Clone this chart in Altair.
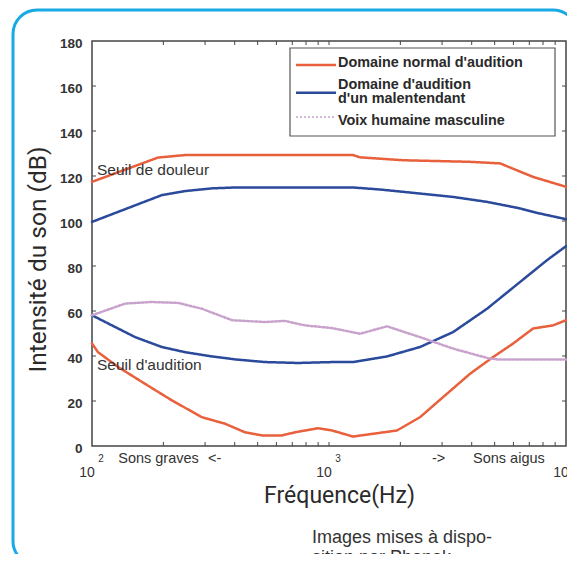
import altair as alt
import pandas as pd

# ---------------- data ----------------
douleur_f = [100, 190, 247, 1262, 1352, 2053, 3936, 5270, 7260, 10000]
douleur_db = [117.4, 128.2, 129.3, 129.3, 128.3, 127.0, 126.3, 125.6, 119.6, 115.2]

mal_haut_f = [100, 197, 247, 321, 401, 1262, 1641, 2421, 3335, 4642, 6400, 7550, 10000]
mal_haut_db = [99.6, 111.5, 113.3, 114.5, 114.9, 114.9, 114.0, 112.2, 110.7, 108.5, 105.6, 103.6, 100.8]

mal_bas_f = [100, 152, 197, 247, 321, 401, 537, 740, 1030, 1262, 1757, 2421, 3335, 4642, 6400, 8318, 10000]
mal_bas_db = [58.1, 48.4, 44.0, 41.7, 39.8, 38.5, 37.3, 36.9, 37.3, 37.3, 39.8, 44.0, 50.6, 61.0, 72.9, 82.6, 88.8]

audition_f = [100, 106, 129, 167, 218, 291, 364, 442, 521, 634, 719, 899, 1030, 1262, 1936, 2421,
              3027, 3936, 4920, 5975, 7260, 8810, 10000]
audition_db = [45.6, 41.7, 35.1, 27.7, 20.2, 12.8, 9.9, 6.1, 4.7, 4.7, 6.1, 7.9, 6.9, 4.2, 6.9, 12.8,
               21.7, 32.1, 39.5, 45.5, 52.2, 53.6, 55.9]

voix_f = [100, 138, 179, 231, 291, 390, 537, 652, 792, 1030, 1352, 1757, 2421, 3335, 4780, 5270, 10000]
voix_db = [58.1, 63.3, 64.0, 63.6, 61.0, 55.9, 55.1, 55.6, 53.6, 52.4, 49.9, 53.2, 48.4, 43.3, 38.8, 38.4, 38.4]

series_names = ["Domaine normal d'audition", "Domaine d'audition|d'un malentendant", "Voix humaine masculine"]
series_colors = ["#e8603c", "#2b4a9c", "#c8a2cc"]
series_dash = [[1, 0], [1, 0], [2, 2]]
series_width = [2.5, 2.5, 1.4]

y_tick_values = [0, 20, 40, 60, 80, 100, 120, 140, 160, 180]
y_minor = [20, 40, 60, 80, 100, 120, 140, 160]
x_minor = [200, 300, 400, 500, 600, 700, 800, 900, 1000, 2000, 3000, 4000, 5000, 6000, 7000, 8000, 9000]
decade_f = [100, 1000, 10000]
decade_exp = ["2", "3", "4"]

annot_text = ["Seuil de douleur", "Seuil d'audition"]
annot_f = [105, 105]
annot_db = [122.6, 35.8]

dir_text = ["Sons graves", "<-", "->", "Sons aigus"]
dir_f = [129, 309, 2720, 4052]

credit_lines = ["Images mises à dispo-", "sition par Phonak"]

# ---------------- build tables ----------------
curves = [
    ("douleur", series_names[0], douleur_f, douleur_db),
    ("audition", series_names[0], audition_f, audition_db),
    ("mal_haut", series_names[1], mal_haut_f, mal_haut_db),
    ("mal_bas", series_names[1], mal_bas_f, mal_bas_db),
    ("voix", series_names[2], voix_f, voix_db),
]
rows = []
for cid, s, fs, ds in curves:
    for f, d in zip(fs, ds):
        rows.append({"courbe": cid, "serie": s, "f": f, "db": d})
df = pd.DataFrame(rows)

W, H = 474, 405
TITLE_FONT = "Roboto, sans-serif"
REG = "Liberation Sans, Arial, sans-serif"
DARK = "#2a2a2a"

x_scale = alt.Scale(type="log", domain=[100, 10000])
y_scale = alt.Scale(domain=[0, 180])

x_axis = alt.Axis(labels=False, ticks=False, domain=False, grid=False,
                  title="Fréquence(Hz)", titleFont=TITLE_FONT, titleFontSize=23, titleFontWeight="normal",
                  titleColor=DARK, titleX=247, titleY=56, titleAlign="center", titleBaseline="alphabetic")
y_axis = alt.Axis(values=y_tick_values, ticks=False, domain=False, grid=False,
                  labelFont=REG, labelFontSize=13.5, labelFontWeight="bold", labelColor="#333",
                  labelPadding=10, labelOffset=2,
                  title="Intensité du son (dB)", titleFont=TITLE_FONT, titleFontSize=24.5,
                  titleFontWeight="normal", titleColor=DARK, titleAngle=270, titleX=-47, titleY=218,
                  titleAlign="center", titleBaseline="alphabetic")

X = lambda: alt.X("f:Q", scale=x_scale, axis=x_axis)
Y = lambda: alt.Y("db:Q", scale=y_scale, axis=y_axis)

one = pd.DataFrame({"k": [0]})

border = alt.Chart(one).mark_rect(cornerRadius=24, fillOpacity=0, stroke="#19aae6", strokeWidth=3).encode(
    x=alt.value(-79), x2=alt.value(485), y=alt.value(-31), y2=alt.value(524))

xt = pd.DataFrame({"f": x_minor})
yt = pd.DataFrame({"db": y_minor})
tick_style = dict(color="#444", strokeWidth=1)
ticks_bottom = alt.Chart(xt).mark_rule(**tick_style).encode(x=X(), y=alt.value(H), y2=alt.value(H - 4))
ticks_top = alt.Chart(xt).mark_rule(**tick_style).encode(x=X(), y=alt.value(0), y2=alt.value(4))
ticks_left = alt.Chart(yt).mark_rule(**tick_style).encode(y=Y(), x=alt.value(0), x2=alt.value(4))
ticks_right = alt.Chart(yt).mark_rule(**tick_style).encode(y=Y(), x=alt.value(W), x2=alt.value(W - 4))

lines = alt.Chart(df).mark_line(strokeCap="round").encode(
    x=X(), y=Y(),
    color=alt.Color("serie:N", scale=alt.Scale(domain=series_names, range=series_colors), legend=None),
    strokeDash=alt.StrokeDash("serie:N", scale=alt.Scale(domain=series_names, range=series_dash), legend=None),
    strokeWidth=alt.StrokeWidth("serie:N", scale=alt.Scale(domain=series_names, range=series_width),
                                legend=None),
    detail="courbe:N",
)

# ---- legend (framed box at the top right of the plot) ----
legend_layers = [alt.Chart(one).mark_rect(fill="white", stroke="#555", strokeWidth=1.2).encode(
    x=alt.value(198), x2=alt.value(463), y=alt.value(7), y2=alt.value(95))]
sample_y = [24, 51.7, 76]
label_y = [21.7, 44.3, 80]
for name, col, dash, wid, sy, ly in zip(series_names, series_colors, series_dash, series_width, sample_y, label_y):
    legend_layers.append(alt.Chart(one).mark_rule(color=col, strokeDash=dash, strokeWidth=wid).encode(
        x=alt.value(204), x2=alt.value(244), y=alt.value(sy)))
    legend_layers.append(alt.Chart(one).mark_text(font=REG, fontSize=14.4, fontWeight="bold", color=DARK,
                                                  align="left", baseline="middle", lineHeight=14).encode(
        x=alt.value(246), y=alt.value(ly), text=alt.value(name.split("|"))))

dec = pd.DataFrame({"f": decade_f, "exp": decade_exp})
dec_base = alt.Chart(dec).mark_text(font=REG, fontSize=14, color="#333", dx=-5, align="center",
                                    baseline="middle").encode(x=X(), y=alt.value(H + 27), text=alt.value("10"))
dec_exp = alt.Chart(dec).mark_text(font=REG, fontSize=10, color="#333", dx=9, align="center",
                                   baseline="middle").encode(x=X(), y=alt.value(H + 13), text="exp:N")

dirs = pd.DataFrame({"f": dir_f, "t": dir_text})
dir_labels = alt.Chart(dirs).mark_text(font=REG, fontSize=14.5, color="#333", align="left",
                                       baseline="middle").encode(x=X(), y=alt.value(H + 13), text="t:N")

ann = pd.DataFrame({"f": annot_f, "db": annot_db, "t": annot_text})
ann_labels = alt.Chart(ann).mark_text(font=REG, fontSize=15.5, color="#333", align="left",
                                      baseline="middle").encode(x=X(), y=Y(), text="t:N")

credit = alt.Chart(one).mark_text(font=REG, fontSize=18, color="#333", align="left", baseline="top",
                                  lineHeight=20).encode(x=alt.value(220), y=alt.value(488),
                                                        text=alt.value(credit_lines))

chart = alt.layer(
    border, ticks_bottom, ticks_top, ticks_left, ticks_right,
    lines, *legend_layers, dec_base, dec_exp, dir_labels, ann_labels, credit,
).properties(
    width=W, height=H,
    autosize=alt.AutoSizeParams(type="none"),
    padding={"left": 84, "top": 33, "right": 1, "bottom": 108},
    background="white",
).configure_view(stroke="#444", strokeWidth=1.5)

chart.save("out.html", embed_options={"renderer": "svg", "actions": False})
